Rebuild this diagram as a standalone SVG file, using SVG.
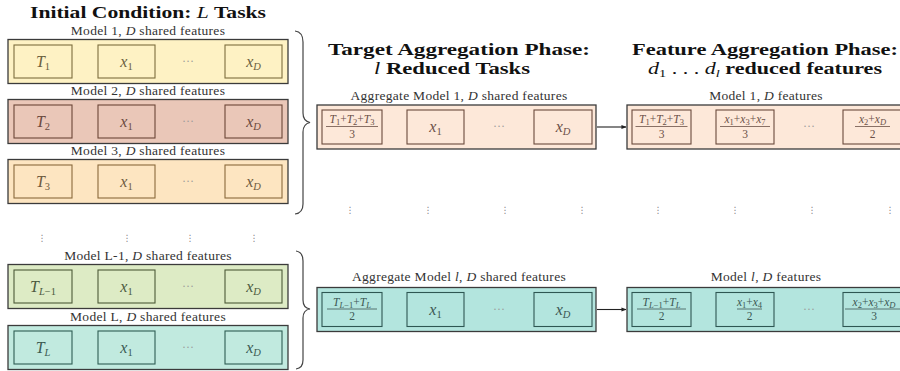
<svg xmlns="http://www.w3.org/2000/svg" width="900" height="371" viewBox="0 0 900 371">
<defs>
<marker id="ah" viewBox="0 0 6 6" refX="5.5" refY="3" markerWidth="5" markerHeight="5" orient="auto" markerUnits="userSpaceOnUse"><path d="M0,0.6 L6,3 L0,5.4 Z" fill="#222"/></marker>
<style>
text{font-family:"Liberation Serif",serif}
.ttl{font-size:17px;font-weight:bold;fill:#111;text-anchor:middle}
.nb{font-weight:normal;font-style:italic}
.lbl{font-size:13.5px;letter-spacing:0.3px;fill:#333;text-anchor:middle}
.m{font-style:italic}
.bx{font-size:16px;text-anchor:middle}
.fr{font-size:11.5px;text-anchor:middle}
.sb{font-size:10.5px}
.fs{font-size:8.5px}
.dd{font-size:12px;fill:#9a9a9a;text-anchor:middle}
.vd{font-family:"DejaVu Sans",sans-serif;font-size:9px;fill:#8a8a8a;text-anchor:middle}
.outer{stroke:#3b3b3b;stroke-width:1.3}
.inner{fill:none;stroke-width:1.1}
.brace{fill:none;stroke:#444;stroke-width:1.2}
.conn{stroke:#222;stroke-width:1.1;fill:none}
.y .outer{fill:#FEF2C4}.y .inner{stroke:#7D6E3E}.y .bx{fill:#6B603E}
.s .outer{fill:#EAC7B8}.s .inner{stroke:#6B4537}.s .bx{fill:#6B4A3E}
.o .outer{fill:#FDE5C1}.o .inner{stroke:#8A6A3C}.o .bx{fill:#6E5A3E}
.g .outer{fill:#DDEBC5}.g .inner{stroke:#4C5A38}.g .bx{fill:#4C5A40}
.t .outer{fill:#C1EADF}.t .inner{stroke:#2F5C52}.t .bx{fill:#3C5A52}
.p .outer{fill:#FDE8D9}.p .inner{stroke:#6B4A3C}.p .bx,.p .fr{fill:#6B5048}.p .fl{stroke:#6B5048}
.q .outer{fill:#B3E5DE}.q .inner{stroke:#2E5753}.q .bx,.q .fr{fill:#3C5753}.q .fl{stroke:#3C5753}
.fl{stroke-width:0.8}
</style>
</defs>

<!-- Titles -->
<text class="ttl" x="148" y="18" textLength="236" lengthAdjust="spacingAndGlyphs">Initial Condition: <tspan class="nb">L</tspan> Tasks</text>
<text class="ttl" x="459" y="54.5" textLength="262" lengthAdjust="spacingAndGlyphs">Target Aggregation Phase:</text>
<text class="ttl" x="452" y="74" textLength="156" lengthAdjust="spacingAndGlyphs"><tspan class="nb">l</tspan> Reduced Tasks</text>
<text class="ttl" x="765" y="54.5" textLength="266" lengthAdjust="spacingAndGlyphs">Feature Aggregation Phase:</text>
<text class="ttl" x="765" y="74" textLength="234" lengthAdjust="spacingAndGlyphs"><tspan class="nb">d</tspan><tspan font-size="11" font-weight="normal" dy="3">1</tspan><tspan font-weight="normal" dy="-3"> . . . </tspan><tspan class="nb">d</tspan><tspan font-size="11" font-weight="normal" font-style="italic" dy="3">l</tspan><tspan dy="-3"> reduced features</tspan></text>

<!-- Model 1 -->
<g id="model1" class="y">
<text class="lbl" x="148" y="34.5">Model 1, <tspan class="m">D</tspan> shared features</text>
<rect class="outer" x="8" y="39.5" width="280" height="44"/>
<rect class="inner" x="14" y="45" width="58" height="33"/>
<rect class="inner" x="98" y="45" width="57" height="33"/>
<rect class="inner" x="225" y="45" width="57" height="33"/>
<text class="bx" x="43" y="66.5"><tspan class="m">T</tspan><tspan class="sb" dy="3">1</tspan></text>
<text class="bx" x="126.5" y="66.5"><tspan class="m">x</tspan><tspan class="sb" dy="3">1</tspan></text>
<text class="dd" x="188" y="65">···</text>
<text class="bx" x="253.5" y="66.5"><tspan class="m">x</tspan><tspan class="sb m" dy="3">D</tspan></text>
</g>

<!-- Model 2 -->
<g id="model2" class="s">
<text class="lbl" x="148" y="94.5">Model 2, <tspan class="m">D</tspan> shared features</text>
<rect class="outer" x="8" y="99.5" width="280" height="44"/>
<rect class="inner" x="14" y="105" width="58" height="33"/>
<rect class="inner" x="98" y="105" width="57" height="33"/>
<rect class="inner" x="225" y="105" width="57" height="33"/>
<text class="bx" x="43" y="126.5"><tspan class="m">T</tspan><tspan class="sb" dy="3">2</tspan></text>
<text class="bx" x="126.5" y="126.5"><tspan class="m">x</tspan><tspan class="sb" dy="3">1</tspan></text>
<text class="dd" x="188" y="125">···</text>
<text class="bx" x="253.5" y="126.5"><tspan class="m">x</tspan><tspan class="sb m" dy="3">D</tspan></text>
</g>

<!-- Model 3 -->
<g id="model3" class="o">
<text class="lbl" x="148" y="154.5">Model 3, <tspan class="m">D</tspan> shared features</text>
<rect class="outer" x="8" y="159.5" width="280" height="44"/>
<rect class="inner" x="14" y="165" width="58" height="33"/>
<rect class="inner" x="98" y="165" width="57" height="33"/>
<rect class="inner" x="225" y="165" width="57" height="33"/>
<text class="bx" x="43" y="186.5"><tspan class="m">T</tspan><tspan class="sb" dy="3">3</tspan></text>
<text class="bx" x="126.5" y="186.5"><tspan class="m">x</tspan><tspan class="sb" dy="3">1</tspan></text>
<text class="dd" x="188" y="185">···</text>
<text class="bx" x="253.5" y="186.5"><tspan class="m">x</tspan><tspan class="sb m" dy="3">D</tspan></text>
</g>

<!-- vertical dots -->
<g id="vdots">
<text class="vd" x="42" y="241">⋮</text>
<text class="vd" x="127" y="241">⋮</text>
<text class="vd" x="190" y="241">⋮</text>
<text class="vd" x="254" y="241">⋮</text>
<text class="vd" x="350" y="213">⋮</text>
<text class="vd" x="428" y="213">⋮</text>
<text class="vd" x="505" y="213">⋮</text>
<text class="vd" x="582" y="213">⋮</text>
<text class="vd" x="658" y="213">⋮</text>
<text class="vd" x="735" y="213">⋮</text>
<text class="vd" x="812" y="213">⋮</text>
<text class="vd" x="890" y="213">⋮</text>
</g>

<!-- Model L-1 -->
<g id="modelLm1" class="g">
<text class="lbl" x="148" y="259.5">Model L-1, <tspan class="m">D</tspan> shared features</text>
<rect class="outer" x="8" y="264.5" width="280" height="44"/>
<rect class="inner" x="14" y="270" width="58" height="33"/>
<rect class="inner" x="98" y="270" width="57" height="33"/>
<rect class="inner" x="225" y="270" width="57" height="33"/>
<text class="bx" x="43" y="291.5"><tspan class="m">T</tspan><tspan class="sb m" dy="3">L</tspan><tspan class="sb">−1</tspan></text>
<text class="bx" x="126.5" y="291.5"><tspan class="m">x</tspan><tspan class="sb" dy="3">1</tspan></text>
<text class="dd" x="188" y="290">···</text>
<text class="bx" x="253.5" y="291.5"><tspan class="m">x</tspan><tspan class="sb m" dy="3">D</tspan></text>
</g>

<!-- Model L -->
<g id="modelL" class="t">
<text class="lbl" x="148" y="320.5">Model L, <tspan class="m">D</tspan> shared features</text>
<rect class="outer" x="8" y="325.5" width="280" height="44"/>
<rect class="inner" x="14" y="331" width="58" height="33"/>
<rect class="inner" x="98" y="331" width="57" height="33"/>
<rect class="inner" x="225" y="331" width="57" height="33"/>
<text class="bx" x="43" y="352.5"><tspan class="m">T</tspan><tspan class="sb m" dy="3">L</tspan></text>
<text class="bx" x="126.5" y="352.5"><tspan class="m">x</tspan><tspan class="sb" dy="3">1</tspan></text>
<text class="dd" x="188" y="351">···</text>
<text class="bx" x="253.5" y="352.5"><tspan class="m">x</tspan><tspan class="sb m" dy="3">D</tspan></text>
</g>

<!-- Aggregate Model 1 -->
<g id="agg1" class="p">
<text class="lbl" x="459" y="100">Aggregate Model 1, <tspan class="m">D</tspan> shared features</text>
<rect class="outer" x="317" y="105" width="279" height="44"/>
<rect class="inner" x="322" y="110" width="60" height="34"/>
<rect class="inner" x="407" y="110" width="57" height="34"/>
<rect class="inner" x="534" y="110" width="58" height="34"/>
<text class="fr" x="352" y="123"><tspan class="m">T</tspan><tspan class="fs" dy="2">1</tspan><tspan dy="-2">+</tspan><tspan class="m">T</tspan><tspan class="fs" dy="2">2</tspan><tspan dy="-2">+</tspan><tspan class="m">T</tspan><tspan class="fs" dy="2">3</tspan></text>
<line class="fl" x1="326" y1="126.5" x2="378" y2="126.5"/>
<text class="fr" x="352" y="137.5">3</text>
<text class="bx" x="435.5" y="132"><tspan class="m">x</tspan><tspan class="sb" dy="3">1</tspan></text>
<text class="dd" x="499" y="130">···</text>
<text class="bx" x="563" y="132"><tspan class="m">x</tspan><tspan class="sb m" dy="3">D</tspan></text>
</g>

<!-- Feature Model 1 -->
<g id="feat1" class="p">
<text class="lbl" x="766" y="100">Model 1, <tspan class="m">D</tspan> features</text>
<rect class="outer" x="627" y="105" width="290" height="44"/>
<rect class="inner" x="632" y="110" width="59" height="34"/>
<rect class="inner" x="716" y="110" width="58" height="34"/>
<rect class="inner" x="843" y="110" width="59" height="34"/>
<text class="fr" x="661.5" y="123"><tspan class="m">T</tspan><tspan class="fs" dy="2">1</tspan><tspan dy="-2">+</tspan><tspan class="m">T</tspan><tspan class="fs" dy="2">2</tspan><tspan dy="-2">+</tspan><tspan class="m">T</tspan><tspan class="fs" dy="2">3</tspan></text>
<line class="fl" x1="635.5" y1="126.5" x2="687.5" y2="126.5"/>
<text class="fr" x="661.5" y="137.5">3</text>
<text class="fr" x="745" y="123"><tspan class="m">x</tspan><tspan class="fs" dy="2">1</tspan><tspan dy="-2">+</tspan><tspan class="m">x</tspan><tspan class="fs" dy="2">3</tspan><tspan dy="-2">+</tspan><tspan class="m">x</tspan><tspan class="fs" dy="2">7</tspan></text>
<line class="fl" x1="720" y1="126.5" x2="770" y2="126.5"/>
<text class="fr" x="745" y="137.5">3</text>
<text class="dd" x="809" y="130">···</text>
<text class="fr" x="872.5" y="123"><tspan class="m">x</tspan><tspan class="fs" dy="2">2</tspan><tspan dy="-2">+</tspan><tspan class="m">x</tspan><tspan class="fs m" dy="2">D</tspan></text>
<line class="fl" x1="855" y1="126.5" x2="890" y2="126.5"/>
<text class="fr" x="872.5" y="137.5">2</text>
</g>

<!-- Aggregate Model l -->
<g id="aggl" class="q">
<text class="lbl" x="459" y="280.5">Aggregate Model <tspan class="m">l</tspan>, <tspan class="m">D</tspan> shared features</text>
<rect class="outer" x="317" y="287.5" width="279" height="44"/>
<rect class="inner" x="322" y="292.5" width="60" height="34"/>
<rect class="inner" x="407" y="292.5" width="57" height="34"/>
<rect class="inner" x="534" y="292.5" width="58" height="34"/>
<text class="fr" x="352" y="305.5"><tspan class="m">T</tspan><tspan class="fs m" dy="2">L</tspan><tspan class="fs">−1</tspan><tspan dy="-2">+</tspan><tspan class="m">T</tspan><tspan class="fs m" dy="2">L</tspan></text>
<line class="fl" x1="327" y1="309" x2="377" y2="309"/>
<text class="fr" x="352" y="320">2</text>
<text class="bx" x="435.5" y="314.5"><tspan class="m">x</tspan><tspan class="sb" dy="3">1</tspan></text>
<text class="dd" x="499" y="312.5">···</text>
<text class="bx" x="563" y="314.5"><tspan class="m">x</tspan><tspan class="sb m" dy="3">D</tspan></text>
</g>

<!-- Feature Model l -->
<g id="featl" class="q">
<text class="lbl" x="766" y="280.5">Model <tspan class="m">l</tspan>, <tspan class="m">D</tspan> features</text>
<rect class="outer" x="627" y="287.5" width="290" height="44"/>
<rect class="inner" x="632" y="292.5" width="59" height="34"/>
<rect class="inner" x="716" y="292.5" width="58" height="34"/>
<rect class="inner" x="843" y="292.5" width="59" height="34"/>
<text class="fr" x="661.5" y="305.5"><tspan class="m">T</tspan><tspan class="fs m" dy="2">L</tspan><tspan class="fs">−1</tspan><tspan dy="-2">+</tspan><tspan class="m">T</tspan><tspan class="fs m" dy="2">L</tspan></text>
<line class="fl" x1="637" y1="309" x2="686" y2="309"/>
<text class="fr" x="661.5" y="320">2</text>
<text class="fr" x="749.5" y="305.5"><tspan class="m">x</tspan><tspan class="fs" dy="2">1</tspan><tspan dy="-2">+</tspan><tspan class="m">x</tspan><tspan class="fs" dy="2">4</tspan></text>
<line class="fl" x1="737" y1="309" x2="762" y2="309"/>
<text class="fr" x="749.5" y="320">2</text>
<text class="dd" x="809" y="312.5">···</text>
<text class="fr" x="874" y="305.5"><tspan class="m">x</tspan><tspan class="fs" dy="2">2</tspan><tspan dy="-2">+</tspan><tspan class="m">x</tspan><tspan class="fs" dy="2">3</tspan><tspan dy="-2">+</tspan><tspan class="m">x</tspan><tspan class="fs m" dy="2">D</tspan></text>
<line class="fl" x1="845" y1="309" x2="903" y2="309"/>
<text class="fr" x="874" y="320">3</text>
</g>

<!-- Connectors -->
<g id="connectors">
<path class="brace" d="M295,31 Q303,32 303,42 L303,113 Q303,121 310,122.5 Q303,124 303,132 L303,204 Q303,213 295,214"/>
<path class="brace" d="M296,251 Q303,252 303,261 L303,300 Q303,308 310,309 Q303,310 303,318 L303,360 Q303,368 296,369"/>
<line class="conn" x1="597" y1="127" x2="626" y2="127" marker-end="url(#ah)"/>
<line class="conn" x1="597" y1="309.5" x2="626" y2="309.5" marker-end="url(#ah)"/>
</g>
</svg>
